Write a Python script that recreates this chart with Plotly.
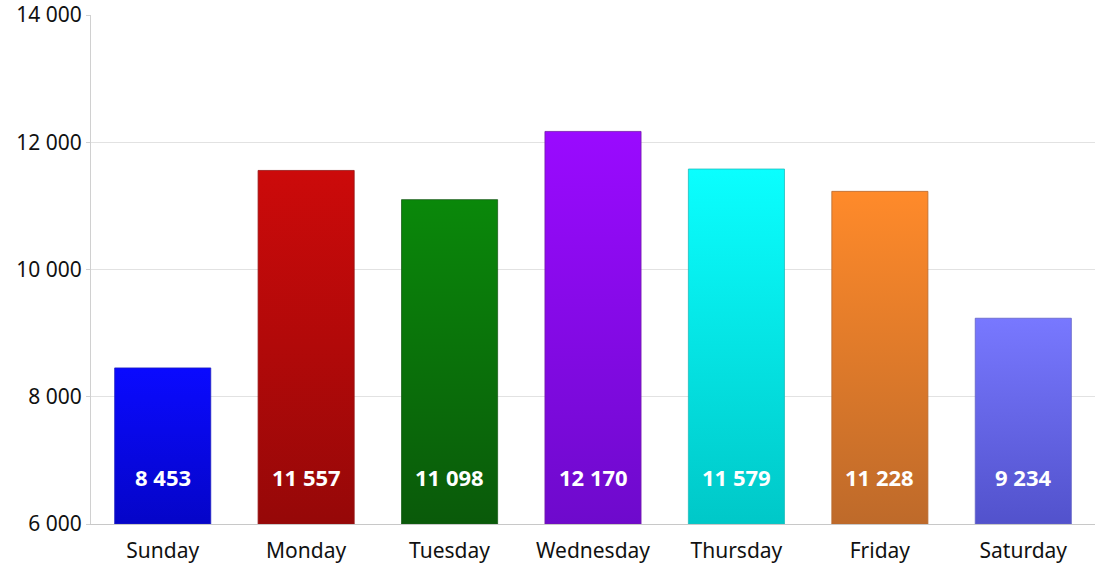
import plotly.graph_objects as go

days = ["Sunday", "Monday", "Tuesday", "Wednesday", "Thursday", "Friday", "Saturday"]
visits = [8453, 11557, 11098, 12170, 11579, 11228, 9234]
top_colors = ["#0a0aff", "#cc0a0a", "#0a880a", "#9a0aff", "#0affff", "#ff8a2a", "#7878ff"]
bottom_colors = ["#0505c8", "#960808", "#0a5a0a", "#6e0acc", "#00c8c8", "#be6a2a", "#5252cc"]
edge_colors = ["#2020c0", "#941414", "#1a5e1a", "#741aaa", "#20bcbc", "#b86a30", "#6262c4"]

y_min, y_max = 6000, 14000
y_ticks = [6000, 8000, 10000, 12000, 14000]
half_width = 0.335
font_family = "Noto Sans"


def fmt(v):
    return f"{v:,}".replace(",", " ")


fig = go.Figure()

for i, (day, v) in enumerate(zip(days, visits)):
    xs = [i - half_width, i + half_width, i + half_width, i - half_width, i - half_width]
    ys = [y_min, y_min, v, v, y_min]
    fig.add_trace(go.Scatter(
        x=xs, y=ys, mode="lines", fill="toself",
        line=dict(color=edge_colors[i], width=0.8),
        fillgradient=dict(
            type="vertical",
            colorscale=[[0, bottom_colors[i]], [1, top_colors[i]]],
        ),
        hoverinfo="skip", showlegend=False,
    ))
    fig.add_annotation(
        x=i, y=y_min, xref="x", yref="y", yshift=47,
        text=f"<b>{fmt(v)}</b>", showarrow=False,
        font=dict(family=font_family, size=22, color="white"),
    )

fig.update_layout(
    width=1100, height=568,
    margin=dict(l=91, r=5, t=15, b=44),
    paper_bgcolor="white", plot_bgcolor="white",
    font=dict(family=font_family, size=21, color="#111111"),
)
fig.update_xaxes(
    range=[-0.5, 6.5], tickvals=list(range(len(days))), ticktext=days,
    showgrid=False, zeroline=False,
    showline=True, linecolor="#c8c8c8", linewidth=1,
    ticks="", ticklabelstandoff=8, tickfont=dict(size=21),
    automargin=False, fixedrange=True,
)
fig.update_yaxes(
    range=[y_min, y_max], tickvals=y_ticks, ticktext=[fmt(t) for t in y_ticks],
    showgrid=True, gridcolor="#e2e2e2", gridwidth=1, zeroline=False,
    showline=True, linecolor="#d0d0d0", linewidth=1,
    ticks="outside", ticklen=4, tickcolor="#d0d0d0",
    tickfont=dict(size=21), automargin=False, fixedrange=True,
)

fig.write_html("out.html")
